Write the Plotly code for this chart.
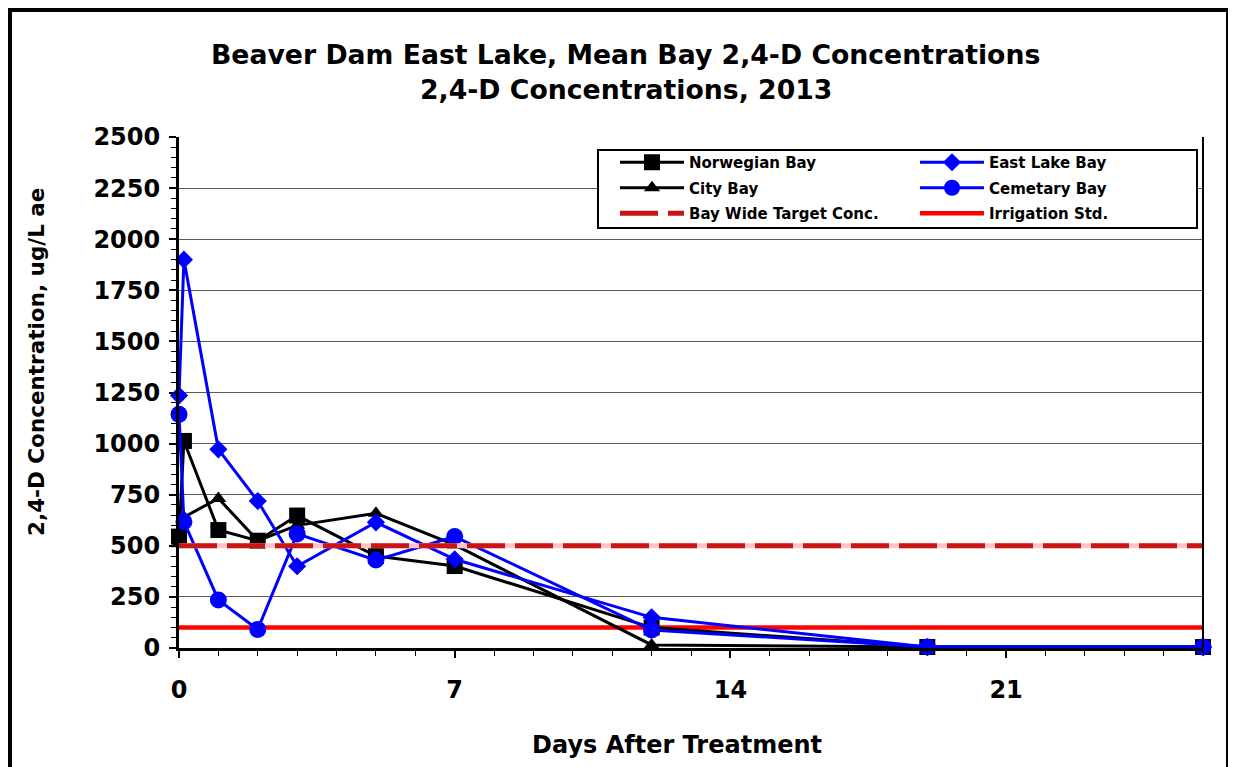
import plotly.graph_objects as go

# ---------------- data ----------------
days = [0, 0.125, 1, 2, 3, 5, 7, 12, 19, 26]
norwegian = [545, 1013, 577, 525, 648, 450, 401, 100, 5, 5]
east_lake = [1235, 1900, 972, 719, 400, 615, 434, 150, 5, 5]
city = [510, 640, 732, 525, 600, 659, 504, 15, 5, 5]
cemetary = [1143, 618, 235, 91, 558, 430, 545, 88, 5, 5]
ref_days = [0, 26]
target_conc = [500, 500]
irrigation_std = [100, 100]
x_tick_vals = [0, 7, 14, 21]
y_tick_vals = [0, 250, 500, 750, 1000, 1250, 1500, 1750, 2000, 2250, 2500]

FONT = "DejaVu Sans"
OFF = 8  # page body margin
W, H = 1236 - OFF, 767 - OFF
PL, PR, PT, PB = 179, 1203, 137, 648  # plot area in page pixels
L, T = PL - OFF, PT - OFF
R, B = W - (PR - OFF), H - (PB - OFF)


def px_x(p):
    return (p - PL) / (PR - PL)


def px_y(p):
    return (PB - p) / (PB - PT)


fig = go.Figure()

fig.add_trace(go.Scatter(x=ref_days, y=irrigation_std, mode="lines", name="Irrigation Std.",
                         line=dict(color="#FF0000", width=4.5), legend="legend2", legendrank=3,
                         legendgroup="g6", cliponaxis=False))

series = [
    ("Norwegian Bay", norwegian, "#000000", "square", 16, "legend", 1),
    ("City Bay", city, "#000000", "triangle-up", 14, "legend", 2),
    ("East Lake Bay", east_lake, "#0000FF", "diamond", 14, "legend2", 1),
    ("Cemetary Bay", cemetary, "#0000FF", "circle", 17, "legend2", 2),
]
for i, (name, vals, col, sym, sz, lg, rank) in enumerate(series):
    fig.add_trace(go.Scatter(x=days, y=vals, mode="lines+markers", name=name,
                             line=dict(color=col, width=3),
                             marker=dict(symbol=sym, size=sz, color=col, line=dict(width=0)),
                             legend=lg, legendrank=rank, legendgroup="g%d" % i, cliponaxis=False))

fig.add_trace(go.Scatter(x=ref_days, y=target_conc, mode="lines", showlegend=False,
                         line=dict(color="#FFC4C4", width=5), hoverinfo="skip"))
fig.add_trace(go.Scatter(x=ref_days, y=target_conc, mode="lines", name="Bay Wide Target Conc.",
                         line=dict(color="#CC1414", width=5, dash="38px,10px"),
                         legend="legend", legendrank=3, legendgroup="g5"))

axis_font = dict(family=FONT, size=24, color="black", weight="bold")
legend_font = dict(family=FONT, size=15, color="black", weight="bold")

fig.update_layout(
    width=W, height=H,
    margin=dict(l=L, r=R, t=T, b=B),
    paper_bgcolor="white", plot_bgcolor="white",
    font=dict(family=FONT, color="black"),
    xaxis=dict(range=[0, 26], tickvals=x_tick_vals, ticks="outside", ticklen=7, tickwidth=1.5,
               tickcolor="black", showline=True, linecolor="black", linewidth=3,
               showgrid=False, zeroline=False, tickfont=axis_font, ticklabelstandoff=11,
               minor=dict(dtick=1, tick0=0, ticks="outside", ticklen=5, tickwidth=1.2,
                          tickcolor="black", showgrid=False)),
    yaxis=dict(range=[0, 2500], tickvals=y_tick_vals, ticks="outside", ticklen=7, tickwidth=1.5,
               tickcolor="black", showline=True, linecolor="black", linewidth=3,
               showgrid=True, gridcolor="#5A5A5A", gridwidth=1, zeroline=False,
               tickfont=axis_font, ticklabelstandoff=4,
               minor=dict(dtick=50, tick0=0, ticks="outside", ticklen=5, tickwidth=1.2,
                          tickcolor="black", showgrid=False)),
    legend=dict(x=px_x(615), y=px_y(146), xanchor="left", yanchor="top",
                bgcolor="rgba(0,0,0,0)", borderwidth=0, itemwidth=64, tracegroupgap=3,
                font=legend_font),
    legend2=dict(x=px_x(915), y=px_y(146), xanchor="left", yanchor="top",
                 bgcolor="rgba(0,0,0,0)", borderwidth=0, itemwidth=64, tracegroupgap=3,
                 font=legend_font),
    showlegend=True,
)

fig.add_shape(type="line", xref="paper", yref="paper", x0=1, x1=1, y0=0, y1=1,
              line=dict(color="black", width=2))
fig.add_shape(type="rect", xref="paper", yref="paper", x0=px_x(598), x1=px_x(1197),
              y0=px_y(228), y1=px_y(150), line=dict(color="black", width=2),
              fillcolor="white", layer="above")
# outer chart border (kept inside the figure canvas)
fig.add_shape(type="rect", xref="paper", yref="paper", x0=px_x(10), x1=px_x(1228),
              y0=px_y(790), y1=px_y(10), line=dict(color="black", width=4), layer="above")

fig.add_annotation(text="Beaver Dam East Lake, Mean Bay 2,4-D Concentrations", xref="paper", yref="paper",
                   x=px_x(625), y=px_y(55), xanchor="center", yanchor="middle", showarrow=False,
                   font=dict(family=FONT, size=26.7, color="black", weight="bold"))
fig.add_annotation(text="2,4-D Concentrations, 2013", xref="paper", yref="paper",
                   x=px_x(626), y=px_y(90), xanchor="center", yanchor="middle", showarrow=False,
                   font=dict(family=FONT, size=26.7, color="black", weight="bold"))
fig.add_annotation(text="Days After Treatment", xref="paper", yref="paper",
                   x=px_x(677), y=px_y(745), xanchor="center", yanchor="middle", showarrow=False,
                   font=dict(family=FONT, size=24, color="black", weight="bold"))
fig.add_annotation(text="2,4-D Concentration, ug/L ae", xref="paper", yref="paper",
                   x=px_x(36), y=px_y(362), xanchor="center", yanchor="middle", showarrow=False,
                   textangle=-90,
                   font=dict(family=FONT, size=21.5, color="black", weight="bold"))

fig.write_html("out.html")
